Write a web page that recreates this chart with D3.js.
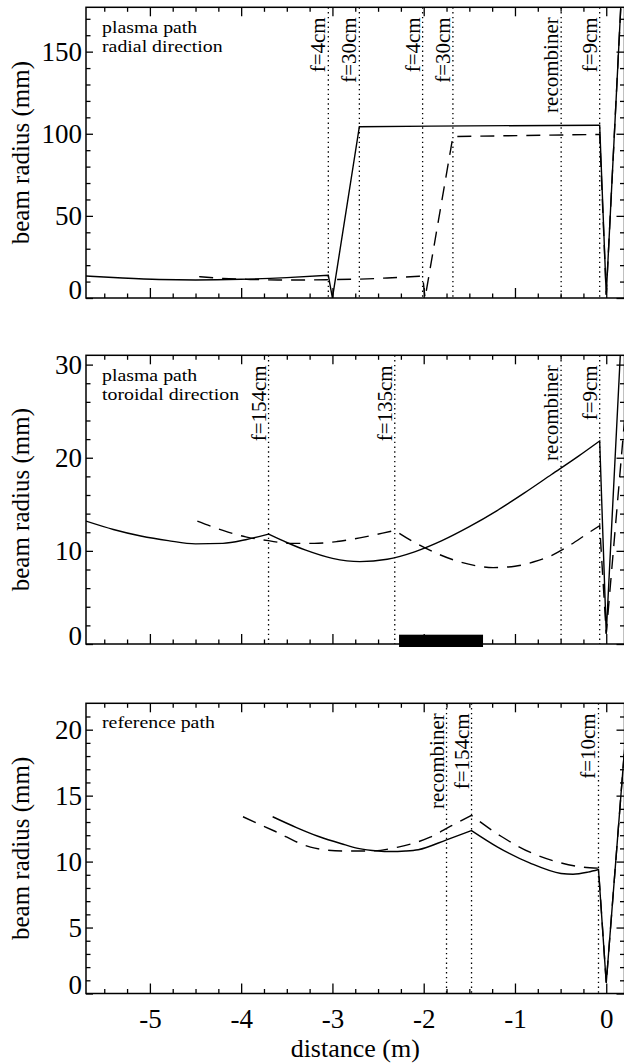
<!DOCTYPE html>
<html><head><meta charset="utf-8">
<script src="https://cdn.jsdelivr.net/npm/d3@7"></script>
<style>
html,body{margin:0;padding:0;background:#fff;}
svg{display:block;}
text{font-family:"Liberation Serif","Times New Roman",serif;fill:#000;}
</style></head><body>
<svg id="c" width="624" height="1063"></svg>
<script>
// ---------------- data ----------------
const xDomain = [-5.7, 0.2];
const xMajorTicks = [-5, -4, -3, -2, -1, 0];

// panel 1 : plasma path, radial direction
const radialYDomain = [0, 177];
const radialYTicks = [0, 50, 100, 150];
const radialSolidX = [-5.7, -5.3, -4.9, -4.5, -4.0, -3.5, -3.045, -3.0, -2.705, -1.5, -0.072, 0.0, 0.2];
const radialSolidY = [13.4, 12.2, 11.3, 11.0, 11.4, 12.4, 13.8, 0.0, 104.3, 104.8, 105.2, 2.0, 222];
const radialSolidBreaks = [-3.045, -3.0, -2.705, -0.072, 0.0];
const radialDashX = [-4.46, -4.2, -3.9, -3.6, -3.3, -3.0, -2.7, -2.4, -2.012, -1.985, -1.68, -0.072, 0.0, 0.2];
const radialDashY = [13.0, 11.9, 11.3, 11.0, 11.0, 11.2, 11.5, 12.2, 13.4, 0.0, 98.3, 99.6, 2.0, 222];
const radialDashBreaks = [-2.012, -1.985, -1.68, -0.072, 0.0];
const radialLensX = [-3.045, -2.705, -2.012, -1.68, -0.494, -0.072];
const radialLensLabels = ["f=4cm", "f=30cm", "f=4cm", "f=30cm", "recombiner", "f=9cm"];
const radialNote = ["plasma path", "radial direction"];

// panel 2 : plasma path, toroidal direction
const toroidalYDomain = [0, 31];
const toroidalYTicks = [0, 10, 20, 30];
const toroidalSolidX = [-5.7, -5.4, -5.1, -4.8, -4.5, -4.2, -3.95, -3.70, -3.5, -3.3, -3.0, -2.7, -2.4, -2.1, -1.8, -1.5, -1.2, -0.9, -0.6, -0.3, -0.072, 0.0, 0.2];
const toroidalSolidY = [13.2, 12.3, 11.6, 11.1, 10.75, 10.8, 11.2, 11.8, 10.9, 10.1, 9.2, 8.85, 9.1, 9.9, 11.1, 12.6, 14.3, 16.2, 18.2, 20.2, 21.8, 1.1, 40];
const toroidalSolidBreaks = [-3.70, -0.072, 0.0];
const toroidalDashX = [-4.48, -4.2, -3.95, -3.70, -3.45, -3.2, -2.95, -2.7, -2.45, -2.317, -2.1, -1.85, -1.6, -1.4, -1.24, -1.0, -0.8, -0.6, -0.4, -0.2, -0.072, 0.0, 0.2];
const toroidalDashY = [13.2, 12.2, 11.5, 11.1, 10.8, 10.8, 11.0, 11.4, 11.9, 12.2, 10.9, 9.7, 8.8, 8.35, 8.2, 8.35, 8.8, 9.5, 10.6, 11.9, 12.7, 1.1, 24];
const toroidalDashBreaks = [-3.70, -2.317, -0.072, 0.0];
const toroidalLensX = [-3.70, -2.317, -0.495, -0.072];
const toroidalLensLabels = ["f=154cm", "f=135cm", "recombiner", "f=9cm"];
const toroidalNote = ["plasma path", "toroidal direction"];
const toroidalBarX = [-2.27, -1.35];
const toroidalBarTop = 1.0;

// panel 3 : reference path
const referenceYDomain = [0, 22];
const referenceYTicks = [0, 5, 10, 15, 20];
const referenceSolidX = [-3.655, -3.4, -3.15, -2.9, -2.72, -2.5, -2.37, -2.2, -2.06, -1.75, -1.476, -1.19, -0.84, -0.495, -0.364, -0.2, -0.085, 0.0, 0.2];
const referenceSolidY = [13.4, 12.6, 11.9, 11.35, 11.0, 10.8, 10.76, 10.8, 10.9, 11.65, 12.35, 11.1, 9.9, 9.1, 9.04, 9.2, 9.4, 0.8, 18.5];
const referenceSolidBreaks = [-1.476, -0.085, 0.0];
const referenceDashX = [-3.98, -3.63, -3.24, -2.89, -2.59, -2.28, -1.93, -1.7, -1.476, -1.148, -0.80, -0.495, -0.276, -0.085, 0.0, 0.2];
const referenceDashY = [13.4, 12.3, 11.1, 10.8, 10.8, 11.1, 11.85, 12.7, 13.5, 11.9, 10.6, 9.9, 9.6, 9.5, 0.8, 18.5];
const referenceDashBreaks = [-1.476, -0.085, 0.0];
const referenceLensX = [-1.75, -1.476, -0.085];
const referenceLensLabels = ["recombiner", "f=154cm", "f=10cm"];
const referenceNote = ["reference path"];

// ---------------- drawing ----------------
const FONT = '"Liberation Serif","Times New Roman",serif';
const svg = d3.select("#c");
const X0 = 86, X1 = 624.5;
const x = d3.scaleLinear().domain(xDomain).range([X0, X1]);
const xMinor = d3.range(-5.5, 0.2001, 0.25).filter(v => Math.abs(v - Math.round(v)) > 1e-6);

const panels = [
  {top: 7.3, bottom: 298, yDomain: radialYDomain, yTicks: radialYTicks, minorStep: 10,
   series: [[radialSolidX, radialSolidY, radialSolidBreaks, false], [radialDashX, radialDashY, radialDashBreaks, true]],
   lensX: radialLensX, lensLabels: radialLensLabels, note: radialNote, noteDy: 26, xLabels: false},
  {top: 355.3, bottom: 644, yDomain: toroidalYDomain, yTicks: toroidalYTicks, minorStep: 2,
   series: [[toroidalSolidX, toroidalSolidY, toroidalSolidBreaks, false], [toroidalDashX, toroidalDashY, toroidalDashBreaks, true]],
   lensX: toroidalLensX, lensLabels: toroidalLensLabels, note: toroidalNote, noteDy: 26, xLabels: false, bar: true},
  {top: 703.3, bottom: 993.5, yDomain: referenceYDomain, yTicks: referenceYTicks, minorStep: 1,
   series: [[referenceSolidX, referenceSolidY, referenceSolidBreaks, false], [referenceDashX, referenceDashY, referenceDashBreaks, true]],
   lensX: referenceLensX, lensLabels: referenceLensLabels, note: referenceNote, noteDy: 25, xLabels: true}
];

function buildPath(xs, ys, breaks, y) {
  const pts = xs.map((v, i) => [v, ys[i]]);
  const segs = []; let cur = [pts[0]];
  for (let i = 1; i < pts.length; i++) {
    cur.push(pts[i]);
    if (breaks.includes(xs[i]) && i < pts.length - 1) { segs.push(cur); cur = [pts[i]]; }
  }
  segs.push(cur);
  const line = d3.line().x(d => x(d[0])).y(d => y(d[1])).curve(d3.curveMonotoneX);
  return segs.map((s, i) => { const p = line(s); return i === 0 ? p : "L" + p.slice(1); }).join("");
}

panels.forEach((p, pi) => {
  const y = d3.scaleLinear().domain(p.yDomain).range([p.bottom, p.top]);
  const g = svg.append("g");
  const clipId = "clip" + pi;
  svg.append("clipPath").attr("id", clipId).append("rect")
    .attr("x", X0).attr("y", p.top).attr("width", X1 - X0).attr("height", p.bottom - p.top);

  // dotted lens lines
  g.selectAll(".lens").data(p.lensX).join("line")
    .attr("x1", d => x(d)).attr("x2", d => x(d))
    .attr("y1", p.top).attr("y2", p.bottom)
    .attr("stroke", "#000").attr("stroke-width", 1.3).attr("stroke-dasharray", "1.4,3.4");

  // curves
  const cg = g.append("g").attr("clip-path", `url(#${clipId})`);
  p.series.forEach(([xs, ys, br, dashed]) => {
    cg.append("path").attr("d", buildPath(xs, ys, br, y))
      .attr("fill", "none").attr("stroke", "#000").attr("stroke-width", 1.4)
      .attr("stroke-linejoin", "miter")
      .attr("stroke-dasharray", dashed ? "14,9" : null);
  });

  // bar
  if (p.bar) {
    g.append("rect").attr("x", x(toroidalBarX[0])).attr("width", x(toroidalBarX[1]) - x(toroidalBarX[0]))
      .attr("y", y(toroidalBarTop)).attr("height", y(0) - y(toroidalBarTop) + 3).attr("fill", "#000");
  }

  // lens labels
  g.selectAll(".lensLabel").data(p.lensX).join("text")
    .attr("transform", d => `translate(${x(d) - 3},${p.top + 10}) rotate(-90)`)
    .attr("text-anchor", "end").attr("font-size", 21)
    .text((d, i) => p.lensLabels[i]);

  // note (horizontally widened like the reference lettering)
  p.note.forEach((t, i) => {
    g.append("text").attr("transform", `translate(102,${p.top + p.noteDy + i * 18.6}) scale(1.24,1)`)
      .attr("font-size", 16).text(t);
  });

  // axes
  const styleAxis = a => { a.select(".domain").remove(); a.attr("font-family", FONT).attr("font-size", 27);
    a.selectAll(".tick line").attr("stroke-width", 1.3); };
  g.append("g").attr("transform", `translate(${X0},0)`)
    .call(d3.axisLeft(y).tickValues(p.yTicks).tickSize(-7).tickPadding(4).tickFormat(d => String(d)))
    .call(styleAxis)
    .call(a => a.selectAll(".tick text").filter(d => d === 0).attr("dy", "0.32em").attr("y", -8.5));
  const yMinor = d3.range(0, p.yDomain[1], p.minorStep).filter(v => !p.yTicks.includes(v));
  g.append("g").attr("transform", `translate(${X0},0)`)
    .call(d3.axisLeft(y).tickValues(yMinor).tickSize(-4.5).tickFormat(""))
    .call(styleAxis);
  g.append("g").attr("transform", `translate(${X1},0)`)
    .call(d3.axisRight(y).tickValues(p.yTicks).tickSize(-8).tickFormat(""))
    .call(styleAxis);
  g.append("g").attr("transform", `translate(${X1},0)`)
    .call(d3.axisRight(y).tickValues(yMinor).tickSize(-4.5).tickFormat(""))
    .call(styleAxis);
  g.append("g").attr("transform", `translate(0,${p.top})`)
    .call(d3.axisTop(x).tickValues(xMajorTicks).tickSize(-9).tickFormat(""))
    .call(styleAxis);
  g.append("g").attr("transform", `translate(0,${p.top})`)
    .call(d3.axisTop(x).tickValues(xMinor).tickSize(-4.5).tickFormat(""))
    .call(styleAxis);
  g.append("g").attr("transform", `translate(0,${p.bottom})`)
    .call(d3.axisBottom(x).tickValues(xMajorTicks).tickSize(-10).tickFormat(p.xLabels ? (d => String(d)) : ""))
    .call(styleAxis)
    .call(a => a.selectAll(".tick text").attr("y", 25.5).attr("dy", "0.35em"));
  g.append("g").attr("transform", `translate(0,${p.bottom})`)
    .call(d3.axisBottom(x).tickValues(xMinor).tickSize(-4.5).tickFormat(""))
    .call(styleAxis);

  // frame
  g.append("rect").attr("x", X0).attr("y", p.top).attr("width", X1 - X0).attr("height", p.bottom - p.top)
    .attr("fill", "none").attr("stroke", "#000").attr("stroke-width", 1.5);

  // y title
  g.append("text").attr("transform", `translate(20,${(p.top + p.bottom) / 2}) rotate(-90)`)
    .attr("text-anchor", "middle").attr("dy", "0.35em").attr("font-size", 25).text("beam radius (mm)");
});

svg.append("text").attr("x", (X0 + X1) / 2).attr("y", 1048).attr("dy", "0.35em")
  .attr("text-anchor", "middle").attr("font-size", 26).text("distance (m)");
</script>
</body></html>
